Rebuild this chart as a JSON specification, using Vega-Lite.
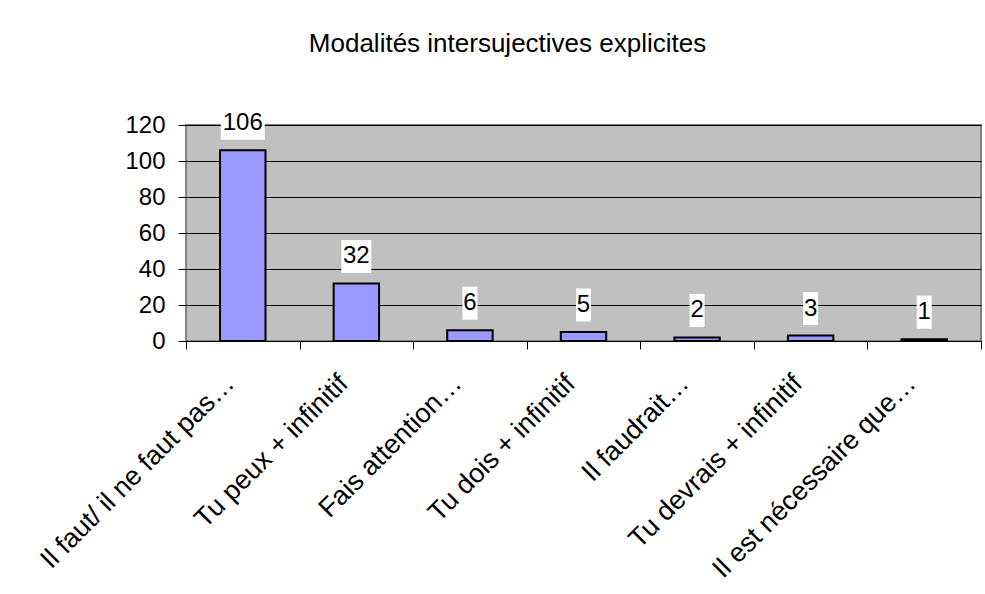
{
  "$schema": "https://vega.github.io/schema/vega-lite/v6.json",
  "width": 795,
  "height": 216,
  "autosize": {"type": "none"},
  "padding": {"left": 186, "top": 125, "right": 4, "bottom": 253},
  "background": "white",
  "title": {
    "text": "Modalités intersujectives explicites",
    "fontSize": 26,
    "font": "Liberation Sans",
    "fontWeight": "normal",
    "color": "black",
    "anchor": "middle",
    "dx": -76,
    "offset": 29,
    "baseline": "alphabetic"
  },
  "data": {
    "values": [
      {"cat": "Il faut/ il ne faut pas…", "n": 106},
      {"cat": "Tu peux + infinitif", "n": 32},
      {"cat": "Fais attention…", "n": 6},
      {"cat": "Tu dois + infinitif", "n": 5},
      {"cat": "Il faudrait…", "n": 2},
      {"cat": "Tu devrais + infinitif", "n": 3},
      {"cat": "Il est nécessaire que…", "n": 1}
    ]
  },
  "encoding": {
    "x": {
      "field": "cat",
      "type": "nominal",
      "sort": null,
      "scale": {"paddingInner": 0, "paddingOuter": 0},
      "axis": {
        "title": null,
        "labelAngle": -45,
        "labelAlign": "right",
        "labelBaseline": "middle",
        "labelFontSize": 27,
        "labelFont": "Liberation Sans",
        "labelColor": "black",
        "labelLimit": 500,
        "labelOverlap": false,
        "labelPadding": 30,
        "labelOffset": -13,
        "tickBand": "extent",
        "tickSize": 8,
        "tickColor": "black",
        "domain": false
      }
    },
    "y": {
      "field": "n",
      "type": "quantitative",
      "scale": {"domain": [0, 120], "nice": false},
      "axis": {
        "title": null,
        "values": [0, 20, 40, 60, 80, 100, 120],
        "grid": true,
        "gridColor": "black",
        "gridWidth": 1,
        "gridOpacity": 1,
        "tickSize": 8,
        "tickColor": "black",
        "labelFontSize": 24,
        "labelFont": "Liberation Sans",
        "labelColor": "black",
        "labelPadding": 13,
        "domain": false
      }
    }
  },
  "layer": [
    {
      "mark": {"type": "bar", "fill": "#9999FF", "stroke": "black", "strokeWidth": 2, "width": {"band": 0.4}}
    },
    {
      "transform": [{"filter": "datum.n < 10"}],
      "mark": {"type": "point", "filled": true, "fill": "white", "opacity": 1, "strokeWidth": 0, "size": 1089, "shape": "M-0.4545,-1H0.4545V1H-0.4545Z", "yOffset": -27}
    },
    {
      "transform": [{"filter": "datum.n >= 10 && datum.n < 100"}],
      "mark": {"type": "point", "filled": true, "fill": "white", "opacity": 1, "strokeWidth": 0, "size": 1089, "shape": "M-0.909,-1H0.909V1H-0.909Z", "yOffset": -27}
    },
    {
      "transform": [{"filter": "datum.n >= 100"}],
      "mark": {"type": "point", "filled": true, "fill": "white", "opacity": 1, "strokeWidth": 0, "size": 1089, "shape": "M-1.333,-1H1.333V1H-1.333Z", "yOffset": -27}
    },
    {
      "mark": {"type": "text", "dy": -27, "baseline": "middle", "fontSize": 24, "font": "Liberation Sans", "fill": "black"},
      "encoding": {"text": {"field": "n", "type": "quantitative"}}
    }
  ],
  "config": {
    "view": {"fill": "#C0C0C0", "stroke": "#808080", "strokeWidth": 2}
  }
}
